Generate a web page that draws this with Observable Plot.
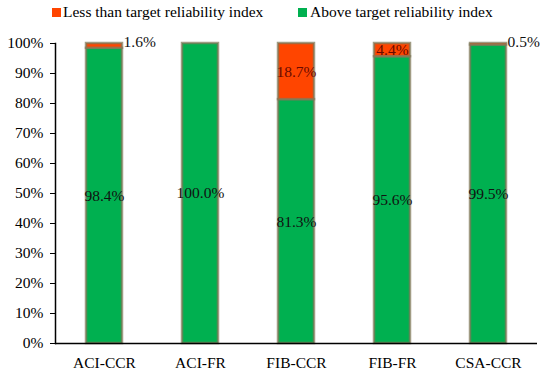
<!DOCTYPE html>
<html>
<head>
<meta charset="utf-8">
<script src="https://cdn.jsdelivr.net/npm/d3@7"></script>
<script src="https://cdn.jsdelivr.net/npm/@observablehq/plot@0.6"></script>
<style>
  body { margin: 0; background: #fff; font-family: "Liberation Serif", "Times New Roman", serif; }
  #wrap { width: 550px; position: relative; }
  #legend { position: relative; height: 26px; font-size: 15.5px; color: #000; }
  .sw { position: absolute; top: 8px; width: 9px; height: 9px; }
  .lt { position: absolute; top: 3px; white-space: nowrap; }
</style>
</head>
<body>
<div id="wrap">
  <div id="legend"></div>
  <div id="chart"></div>
</div>
<script>
const categories = ["ACI-CCR", "ACI-FR", "FIB-CCR", "FIB-FR", "CSA-CCR"];
const lessValues = [1.6, 0, 18.7, 4.4, 0.5];
const aboveValues = [98.4, 100.0, 81.3, 95.6, 99.5];
const seriesNames = ["Less than target reliability index", "Above target reliability index"];
const seriesColors = ["#FF4500", "#00B050"];
const yTicks = [0, 10, 20, 30, 40, 50, 60, 70, 80, 90, 100];

// legend
const legend = document.getElementById("legend");
const legendX = [[52, 63], [298, 310]];
seriesNames.forEach((name, i) => {
  const sw = document.createElement("div");
  sw.className = "sw";
  sw.style.left = legendX[i][0] + "px";
  sw.style.background = seriesColors[i];
  legend.appendChild(sw);
  const t = document.createElement("div");
  t.className = "lt";
  t.style.left = legendX[i][1] + "px";
  t.textContent = name;
  legend.appendChild(t);
});

const rows = [];
categories.forEach((c, i) => {
  rows.push({cat: c, series: seriesNames[1], value: aboveValues[i]});
  rows.push({cat: c, series: seriesNames[0], value: lessValues[i]});
});
const aboveLabels = categories.map((c, i) => ({cat: c, y: aboveValues[i] / 2, label: aboveValues[i].toFixed(1) + "%"}));
const lessInside = categories.map((c, i) => ({cat: c, v: lessValues[i], y: aboveValues[i] + lessValues[i] / 2, label: lessValues[i].toFixed(1) + "%"}))
  .filter(d => d.v >= 3);
const lessOutside = categories.map((c, i) => ({cat: c, v: lessValues[i], y: 100, label: lessValues[i].toFixed(1) + "%"}))
  .filter(d => d.v > 0 && d.v < 3);

const chart = Plot.plot({
  width: 550,
  height: 349,
  marginLeft: 55,
  marginRight: 13,
  marginTop: 17,
  marginBottom: 32,
  style: {fontFamily: "'Liberation Serif', 'Times New Roman', serif", fontSize: "15.5px", color: "#000", background: "#fff"},
  x: {domain: categories, paddingInner: 0.6, paddingOuter: 0.3, label: null},
  y: {domain: [0, 100], label: null},
  color: {domain: seriesNames, range: seriesColors},
  marks: [
    Plot.barY(rows, {x: "cat", y: "value", fill: "series", order: seriesNames.slice().reverse(),
      stroke: "#807a5a", strokeOpacity: 0.75, strokeWidth: 2.5, insetLeft: 1, insetRight: 1}),
    Plot.axisY({ticks: yTicks, tickFormat: d => d + "%", tickSize: 5, tickPadding: 7, stroke: "#000", fill: "#000"}),
    Plot.axisX({tickSize: 0, tickPadding: 13, fill: "#000"}),
    Plot.frame({anchor: "left", stroke: "#000", strokeWidth: 1.5}),
    Plot.ruleY([0], {stroke: "#000", strokeWidth: 1.5}),
    Plot.text(aboveLabels, {x: "cat", y: "y", text: "label", fill: "#111"}),
    Plot.text(lessInside, {x: "cat", y: "y", text: "label", fill: "#6a0a00"}),
    Plot.text(lessOutside, {x: "cat", y: "y", text: "label", fill: "#111", textAnchor: "start", dx: 19, dy: -1})
  ]
});
document.getElementById("chart").appendChild(chart);
</script>
</body>
</html>
